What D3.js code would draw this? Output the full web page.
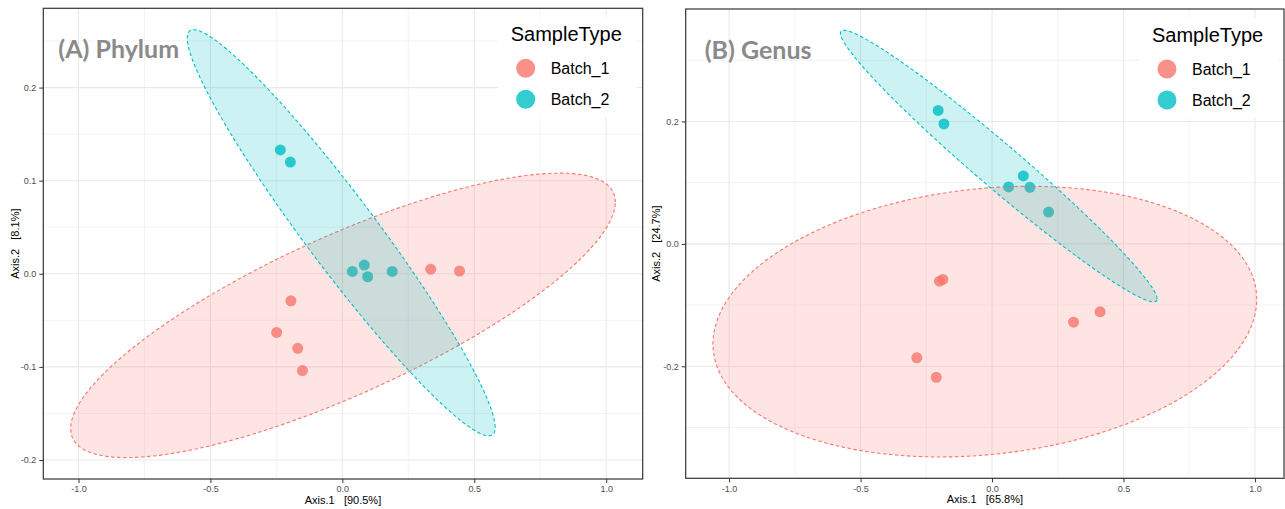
<!DOCTYPE html>
<html>
<head>
<meta charset="utf-8">
<script src="https://cdn.jsdelivr.net/npm/d3@7/dist/d3.min.js"></script>
<style>
  body { margin: 0; background: #fff; }
  text { font-family: "Liberation Sans", Arial, sans-serif; }
</style>
</head>
<body>
<svg id="chart" width="1285" height="509"></svg>
<script>
// groups + colours (ggplot default hue palette)
const groups = ['Batch_1', 'Batch_2'];
const groupColors = ['#F8766D', '#00BFC4'];

// (A) Phylum ordination, [Axis.1, Axis.2]
const phylumBatch1 = [[-0.195, -0.029], [-0.249, -0.063], [-0.169, -0.080], [-0.151, -0.104], [0.335, 0.005], [0.444, 0.003]];
const phylumBatch2 = [[-0.235, 0.133], [-0.197, 0.120], [0.038, 0.0025], [0.083, 0.0093], [0.096, -0.0032], [0.189, 0.0025]];
const phylumXTicks = [-1.0, -0.5, 0.0, 0.5, 1.0];
const phylumYTicks = [-0.2, -0.1, 0.0, 0.1, 0.2];

// (B) Genus ordination
const genusBatch1 = [[-0.200, -0.061], [-0.187, -0.058], [-0.286, -0.186], [-0.212, -0.218], [0.310, -0.128], [0.411, -0.111]];
const genusBatch2 = [[-0.205, 0.218], [-0.183, 0.196], [0.119, 0.111], [0.063, 0.093], [0.144, 0.0925], [0.215, 0.052]];
const genusXTicks = [-1.0, -0.5, 0.0, 0.5, 1.0];
const genusYTicks = [-0.2, 0.0, 0.2];

const panels = [
    { label: '(A) Phylum', xTitle: 'Axis.1   [90.5%]', yTitle: 'Axis.2   [8.1%]',
      series: [phylumBatch1, phylumBatch2], xTicks: phylumXTicks, yTicks: phylumYTicks,
      left: 43.3, right: 642.7, top: 8.3, bottom: 479, labelDx: 15, yTitleX: 19 },
    { label: '(B) Genus', xTitle: 'Axis.1   [65.8%]', yTitle: 'Axis.2   [24.7%]',
      series: [genusBatch1, genusBatch2], xTicks: genusXTicks, yTicks: genusYTicks,
      left: 685.7, right: 1284, top: 9, bottom: 478.3, labelDx: 19, yTitleX: 660 }
];

const svg = d3.select('#chart');

// 95% normal-theory ellipse, same recipe as stat_ellipse (dfn = 2)
function ellipse(pts, level = 0.95, segments = 100) {
    const n = pts.length;
    const mx = d3.mean(pts, d => d[0]), my = d3.mean(pts, d => d[1]);
    let sxx = 0, syy = 0, sxy = 0;
    pts.forEach(p => {
        sxx += (p[0] - mx) ** 2;
        syy += (p[1] - my) ** 2;
        sxy += (p[0] - mx) * (p[1] - my);
    });
    sxx /= n - 1; syy /= n - 1; sxy /= n - 1;
    const dfd = n - 1;
    const fq = dfd / 2 * (Math.pow(1 - level, -2 / dfd) - 1);
    const r = Math.sqrt(2 * fq);
    // upper cholesky factor
    const r11 = Math.sqrt(sxx), r12 = sxy / r11, r22 = Math.sqrt(syy - r12 * r12);
    return d3.range(segments).map(i => {
        const t = 2 * Math.PI * i / segments;
        const c = Math.cos(t), s = Math.sin(t);
        return [mx + r * c * r11, my + r * (c * r12 + s * r22)];
    });
}

function minorBreaks(ticks, domain) {
    const step = ticks[1] - ticks[0];
    const out = [];
    for (let v = ticks[0] - step / 2; v <= ticks[ticks.length - 1] + step / 2 + 1e-9; v += step) {
        if (v >= domain[0] && v <= domain[1]) out.push(+v.toFixed(4));
    }
    return out;
}

function drawPanel(p) {
    const ells = p.series.map(s => ellipse(s));
    const allPts = ells.flat().concat(p.series.flat());
    const xe = d3.extent(allPts, d => d[0]), ye = d3.extent(allPts, d => d[1]);
    const xpad = (xe[1] - xe[0]) * 0.05, ypad = (ye[1] - ye[0]) * 0.05;
    const xDom = [xe[0] - xpad, xe[1] + xpad], yDom = [ye[0] - ypad, ye[1] + ypad];

    const x = d3.scaleLinear().domain(xDom).range([p.left, p.right]);
    const y = d3.scaleLinear().domain(yDom).range([p.bottom, p.top]);

    const g = svg.append('g');
    const clipId = 'clip' + Math.round(p.left);
    g.append('clipPath').attr('id', clipId).append('rect')
        .attr('x', p.left).attr('y', p.top)
        .attr('width', p.right - p.left).attr('height', p.bottom - p.top);

    // grid
    const grid = g.append('g');
    minorBreaks(p.xTicks, xDom).forEach(v => {
        grid.append('line').attr('x1', x(v)).attr('x2', x(v)).attr('y1', p.top).attr('y2', p.bottom)
            .attr('stroke', '#f0f0f0').attr('stroke-width', 0.8);
    });
    minorBreaks(p.yTicks, yDom).forEach(v => {
        grid.append('line').attr('y1', y(v)).attr('y2', y(v)).attr('x1', p.left).attr('x2', p.right)
            .attr('stroke', '#f0f0f0').attr('stroke-width', 0.8);
    });
    p.xTicks.forEach(v => {
        grid.append('line').attr('x1', x(v)).attr('x2', x(v)).attr('y1', p.top).attr('y2', p.bottom)
            .attr('stroke', '#e9e9e9').attr('stroke-width', 1.1);
    });
    p.yTicks.forEach(v => {
        grid.append('line').attr('y1', y(v)).attr('y2', y(v)).attr('x1', p.left).attr('x2', p.right)
            .attr('stroke', '#e9e9e9').attr('stroke-width', 1.1);
    });

    const plot = g.append('g').attr('clip-path', `url(#${clipId})`);

    // points (under the ellipses, as in the original)
    p.series.forEach((s, i) => {
        plot.selectAll(null).data(s).enter().append('circle')
            .attr('cx', d => x(d[0])).attr('cy', d => y(d[1])).attr('r', 5.5)
            .attr('fill', groupColors[i]).attr('fill-opacity', 0.8);
    });

    const line = d3.line().x(d => x(d[0])).y(d => y(d[1])).curve(d3.curveLinearClosed);
    ells.forEach((e, i) => {
        plot.append('path').attr('d', line(e))
            .attr('fill', groupColors[i]).attr('fill-opacity', 0.2)
            .attr('stroke', groupColors[i]).attr('stroke-width', 1.1)
            .attr('stroke-dasharray', '3.5,2.5');
    });

    // panel label
    g.append('text').attr('x', p.left + p.labelDx).attr('y', p.top + 50)
        .style('font-family', 'Lato, "Open Sans", sans-serif').style('font-weight', 'bold')
        .style('font-size', '25px').attr('fill', '#8a8a8a').text(p.label);

    // legend
    const lg = g.append('g');
    lg.append('rect').attr('x', p.right - 145).attr('y', p.top + 9)
        .attr('width', 139).attr('height', 100).attr('fill', '#fff');
    lg.append('text').attr('x', p.right - 132).attr('y', p.top + 32.5)
        .style('font-size', '20px').attr('fill', '#000').text('SampleType');
    groups.forEach((name, i) => {
        const cy = p.top + 60 + i * 31;
        lg.append('circle').attr('cx', p.right - 117).attr('cy', cy).attr('r', 9.5)
            .attr('fill', groupColors[i]).attr('fill-opacity', 0.8);
        lg.append('text').attr('x', p.right - 92).attr('y', cy + 6)
            .style('font-size', '16px').attr('fill', '#000').text(name);
    });

    // border
    g.append('rect').attr('x', p.left).attr('y', p.top)
        .attr('width', p.right - p.left).attr('height', p.bottom - p.top)
        .attr('fill', 'none').attr('stroke', '#333').attr('stroke-width', 1.2);

    // axes
    const fmt = d => d.toFixed(1);
    const xa = g.append('g').attr('transform', `translate(0,${p.bottom})`)
        .call(d3.axisBottom(x).tickValues(p.xTicks).tickSize(4).tickPadding(3).tickFormat(fmt));
    const ya = g.append('g').attr('transform', `translate(${p.left},0)`)
        .call(d3.axisLeft(y).tickValues(p.yTicks).tickSize(4).tickPadding(3).tickFormat(fmt));
    [xa, ya].forEach(a => {
        a.select('.domain').remove();
        a.selectAll('line').attr('stroke', '#333');
        a.selectAll('text').attr('fill', '#4d4d4d').style('font-size', '9px')
            .style('font-family', '"Liberation Sans", Arial, sans-serif');
    });

    g.append('text').attr('x', (p.left + p.right) / 2).attr('y', p.bottom + 25)
        .attr('text-anchor', 'middle').style('font-size', '11px').style('white-space', 'pre')
        .text(p.xTitle);
    g.append('text').attr('transform', `translate(${p.yTitleX},${(p.top + p.bottom) / 2}) rotate(-90)`)
        .attr('text-anchor', 'middle').style('font-size', '11px').style('white-space', 'pre')
        .text(p.yTitle);
}

panels.forEach(drawPanel);
</script>
</body>
</html>
